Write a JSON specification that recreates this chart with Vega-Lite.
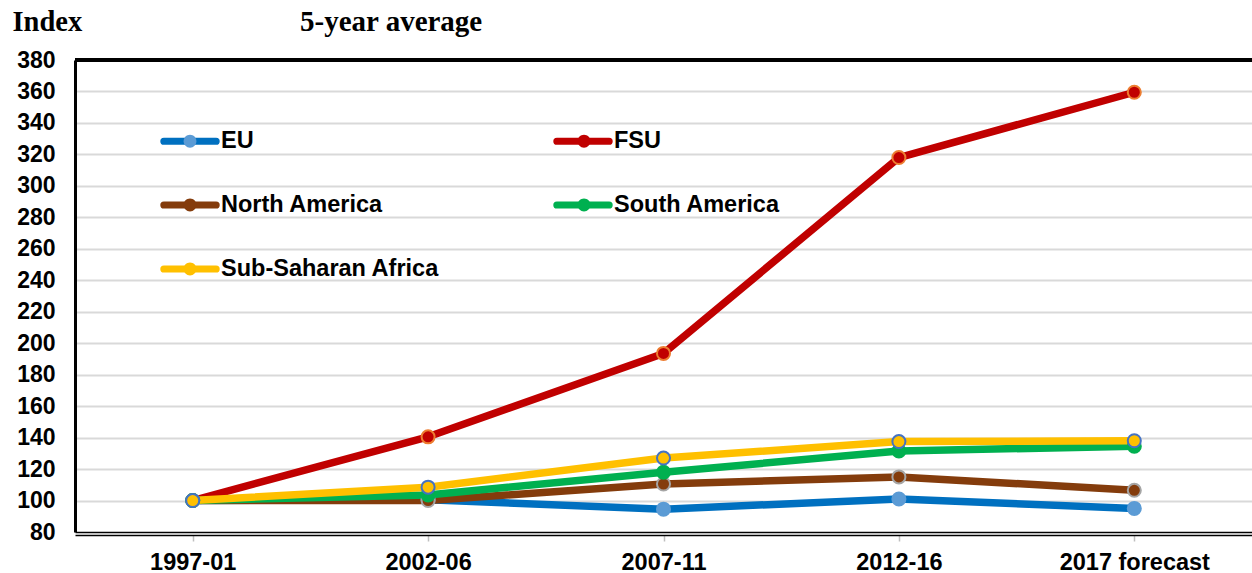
{
  "$schema": "https://vega.github.io/schema/vega-lite/v6.json",
  "width": 1177,
  "height": 472,
  "autosize": {"type": "none"},
  "padding": {"left": 75, "top": 60, "right": 0, "bottom": 41},
  "background": "white",
  "config": {
    "view": {"stroke": null},
    "font": "Liberation Sans"
  },
  "title": {
    "text": "5-year average",
    "anchor": "start",
    "frame": "group",
    "dx": 225,
    "font": "Liberation Serif",
    "fontSize": 29,
    "fontWeight": "bold",
    "color": "black",
    "baseline": "alphabetic",
    "offset": -53
  },
  "data": {
    "values": [
      {"period": "1997-01", "series": "EU", "value": 100},
      {"period": "2002-06", "series": "EU", "value": 100.5},
      {"period": "2007-11", "series": "EU", "value": 94.5},
      {"period": "2012-16", "series": "EU", "value": 101},
      {"period": "2017 forecast", "series": "EU", "value": 95},
      {"period": "1997-01", "series": "FSU", "value": 100},
      {"period": "2002-06", "series": "FSU", "value": 140.5},
      {"period": "2007-11", "series": "FSU", "value": 193.5},
      {"period": "2012-16", "series": "FSU", "value": 318},
      {"period": "2017 forecast", "series": "FSU", "value": 359.5},
      {"period": "1997-01", "series": "North America", "value": 100},
      {"period": "2002-06", "series": "North America", "value": 100},
      {"period": "2007-11", "series": "North America", "value": 110.5},
      {"period": "2012-16", "series": "North America", "value": 115},
      {"period": "2017 forecast", "series": "North America", "value": 106.5},
      {"period": "1997-01", "series": "South America", "value": 100},
      {"period": "2002-06", "series": "South America", "value": 103.5},
      {"period": "2007-11", "series": "South America", "value": 118},
      {"period": "2012-16", "series": "South America", "value": 131.5},
      {"period": "2017 forecast", "series": "South America", "value": 134.5},
      {"period": "1997-01", "series": "Sub-Saharan Africa", "value": 100},
      {"period": "2002-06", "series": "Sub-Saharan Africa", "value": 108.5},
      {"period": "2007-11", "series": "Sub-Saharan Africa", "value": 127},
      {"period": "2012-16", "series": "Sub-Saharan Africa", "value": 137.5},
      {"period": "2017 forecast", "series": "Sub-Saharan Africa", "value": 138}
    ]
  },
  "encoding": {
    "x": {
      "field": "period",
      "type": "ordinal",
      "sort": null,
      "scale": {"type": "point", "padding": 0.5},
      "axis": {
        "title": null,
        "labelAngle": 0,
        "labelFont": "Liberation Sans",
        "labelFontWeight": "bold",
        "labelFontSize": 23.5,
        "labelColor": "black",
        "labelPadding": 9,
        "domainColor": "black",
        "domainWidth": 1.5,
        "offset": 3,
        "ticks": true,
        "tickColor": "#BFBFBF",
        "tickWidth": 1.5,
        "tickSize": 6,
        "grid": false
      }
    },
    "y": {
      "field": "value",
      "type": "quantitative",
      "scale": {"domain": [80, 380], "nice": false, "zero": false},
      "axis": {
        "values": [80, 100, 120, 140, 160, 180, 200, 220, 240, 260, 280, 300, 320, 340, 360, 380],
        "title": "Index",
        "titleAngle": 0,
        "titleX": -63,
        "titleY": -30,
        "titleAlign": "left",
        "titleBaseline": "alphabetic",
        "titleFont": "Liberation Serif",
        "titleFontSize": 28.5,
        "titleFontWeight": "bold",
        "titleColor": "black",
        "labelFont": "Liberation Sans",
        "labelFontWeight": "bold",
        "labelFontSize": 23,
        "labelColor": "black",
        "labelPadding": 20,
        "ticks": false,
        "domainColor": "black",
        "domainWidth": 3,
        "grid": true,
        "gridColor": {"condition": {"test": "datum.value === 80", "value": "black"}, "value": "#D9D9D9"},
        "gridWidth": {"condition": {"test": "datum.value === 80", "value": 1.5}, "value": 2}
      }
    }
  },
  "layer": [
    {
      "mark": {"type": "rule", "color": "black", "strokeWidth": 3},
      "encoding": {"y": {"datum": 380}, "x": null}
    },
    {
      "mark": {"type": "line", "strokeWidth": 7.5, "strokeJoin": "round", "strokeCap": "round"},
      "encoding": {
        "color": {
          "field": "series",
          "type": "nominal",
          "scale": {
            "domain": ["EU", "FSU", "North America", "South America", "Sub-Saharan Africa"],
            "range": ["#0070C0", "#C00000", "#843C0C", "#00B050", "#FFC000"]
          },
          "legend": {
            "orient": "none",
            "direction": "horizontal",
            "legendX": 85,
            "legendY": 51,
            "columns": 2,
            "columnPadding": 110,
            "rowPadding": 22,
            "padding": 0,
            "title": null,
            "labelFont": "Liberation Sans",
            "labelFontWeight": "bold",
            "labelFontSize": 23.5,
            "labelColor": "black",
            "labelOffset": 1,
            "labelLimit": 400,
            "symbolSize": 3364,
            "symbolStrokeWidth": 2,
            "symbolType": "M-0.9,-0.09L0.9,-0.09A0.09,0.09 0 0 1 0.9,0.09L-0.9,0.09A0.09,0.09 0 0 1 -0.9,-0.09Z",
            "encode": {
              "symbols": {
                "update": {
                  "fill": {"scale": "color", "field": "value"},
                  "stroke": {"scale": "color", "field": "value"},
                  "strokeWidth": {"value": 2},
                  "opacity": {"value": 1}
                }
              }
            }
          }
        }
      }
    },
    {
      "mark": {"type": "circle", "size": 170, "opacity": 1, "strokeWidth": 2},
      "encoding": {
        "fill": {
          "field": "series",
          "type": "nominal",
          "scale": {
            "range": ["#5B9BD5", "#C00000", "#843C0C", "#00B050", "#FFC000"]
          },
          "legend": {
            "orient": "none",
            "direction": "horizontal",
            "legendX": 85,
            "legendY": 51,
            "columns": 2,
            "columnPadding": 333,
            "rowPadding": 22,
            "padding": 0,
            "title": null,
            "labelExpr": "''",
            "labelFont": "Liberation Sans",
            "labelFontWeight": "bold",
            "labelFontSize": 23.5,
            "labelColor": "black",
            "labelOffset": 1,
            "labelLimit": 400,
            "symbolSize": 3364,
            "symbolStrokeWidth": 2,
            "symbolType": "M0.22,0A0.22,0.22 0 1 1 -0.22,0A0.22,0.22 0 1 1 0.22,0Z",
            "encode": {
              "symbols": {
                "update": {
                  "fill": {"scale": "fill", "field": "value"},
                  "stroke": {"scale": "stroke", "field": "value"},
                  "strokeWidth": {"value": 2},
                  "opacity": {"value": 1}
                }
              }
            }
          }
        },
        "stroke": {
          "field": "series",
          "type": "nominal",
          "scale": {
            "domain": ["EU", "FSU", "North America", "South America", "Sub-Saharan Africa"],
            "range": ["#5B9BD5", "#ED7D31", "#A5A5A5", "#00B050", "#4472C4"]
          },
          "legend": null
        }
      }
    }
  ]
}
